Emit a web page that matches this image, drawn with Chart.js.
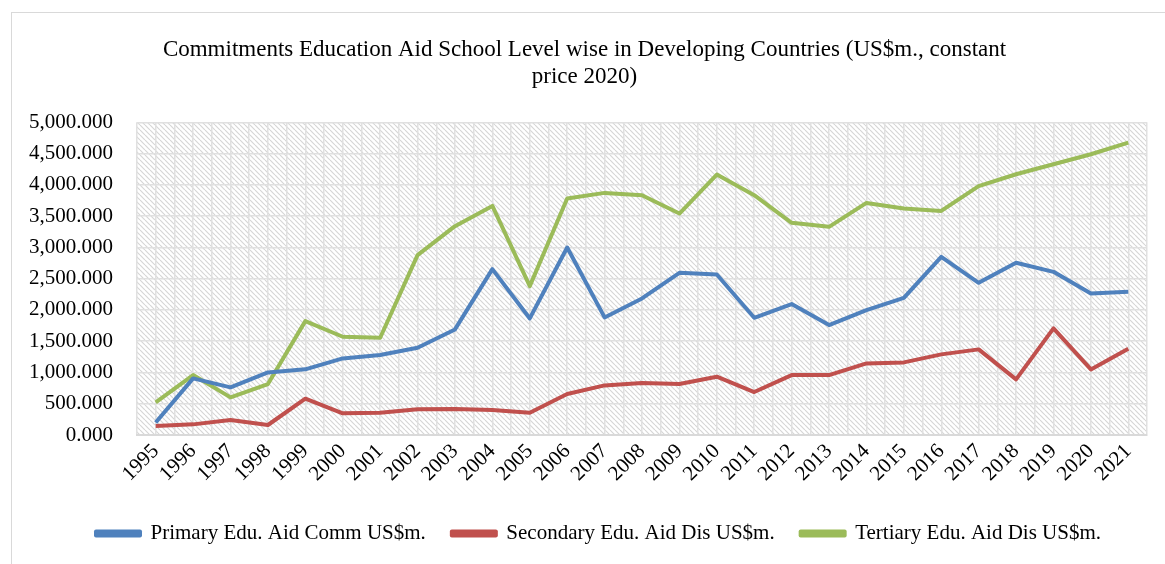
<!DOCTYPE html>
<html>
<head>
<meta charset="utf-8">
<script src="https://cdn.jsdelivr.net/npm/chart.js@4.4.1/dist/chart.umd.min.js"></script>
<style>
  html, body { margin: 0; padding: 0; background: #fff; }
  #frame {
    position: absolute; left: 11px; top: 12px;
    width: 1200px; height: 600px;
    border-left: 1px solid #d9d9d9; border-top: 1px solid #d9d9d9;
  }
  #wrap { position: absolute; left: 0; top: 0; width: 1165px; height: 564px; }
</style>
</head>
<body>
<div id="frame"></div>
<div id="wrap"><canvas id="chart"></canvas></div>
<script>
// years on the x axis
const years = ["1995","1996","1997","1998","1999","2000","2001","2002","2003","2004",
  "2005","2006","2007","2008","2009","2010","2011","2012","2013","2014",
  "2015","2016","2017","2018","2019","2020","2021"];

// values (US$m.)
const primaryAid = [200, 905, 762, 1000, 1050, 1225, 1278, 1395, 1688, 2652,
  1864, 2998, 1880, 2183, 2593, 2567, 1874, 2093, 1757, 1997,
  2194, 2849, 2433, 2753, 2609, 2263, 2290];
const secondaryAid = [145, 170, 240, 160, 580, 346, 356, 410, 415, 400,
  356, 655, 793, 830, 815, 932, 687, 958, 958, 1145,
  1161, 1289, 1369, 890, 1704, 1049, 1379];
const tertiaryAid = [522, 958, 602, 815, 1821, 1571, 1555, 2875, 3339, 3663,
  2380, 3780, 3871, 3834, 3541, 4164, 3834, 3392, 3328, 3711,
  3621, 3583, 3978, 4169, 4329, 4489, 4675];

const yTicks = [0, 500, 1000, 1500, 2000, 2500, 3000, 3500, 4000, 4500, 5000];

const FONT = "'Liberation Serif', 'Times New Roman', serif";

// diagonal hatch used as plot background
function makeHatch() {
    const s = 5;
    const c = document.createElement("canvas");
    c.width = s; c.height = s;
    const g = c.getContext("2d");
    g.fillStyle = "#ffffff";
    g.fillRect(0, 0, s, s);
    g.strokeStyle = "#d6d6d6";
    g.lineWidth = 1.2;
    [-s, 0, s].forEach(x0 => {
        g.beginPath();
        g.moveTo(x0, 0);
        g.lineTo(x0 + s, s);
        g.stroke();
    });
    return c;
}

const hatchBackground = {
    id: "hatchBackground",
    beforeDraw(chart) {
        const { ctx, chartArea } = chart;
        ctx.save();
        ctx.fillStyle = ctx.createPattern(makeHatch(), "repeat");
        ctx.fillRect(chartArea.left, chartArea.top,
            chartArea.right - chartArea.left, chartArea.bottom - chartArea.top);
        ctx.restore();
    }
};

// nudge the legend a bit to the right, as in the picture
const legendShift = {
    id: "legendShift",
    afterLayout(chart) {
        if (chart.legend) {
            chart.legend.left += 14;
            chart.legend.right += 14;
        }
    }
};

function series(label, values, color) {
    return {
        label: label,
        data: values,
        borderColor: color,
        backgroundColor: color,
        borderWidth: 4,
        pointRadius: 0,
        tension: 0,
        borderJoinStyle: "round",
        xAxisID: "x"
    };
}

new Chart(document.getElementById("chart"), {
    type: "line",
    data: {
        labels: years,
        datasets: [
            series("Primary Edu. Aid Comm US$m.", primaryAid, "#4f81bd"),
            series("Secondary Edu. Aid Dis US$m.", secondaryAid, "#c0504d"),
            series("Tertiary Edu. Aid Dis US$m.", tertiaryAid, "#9bbb59")
        ]
    },
    options: {
        responsive: true,
        maintainAspectRatio: false,
        animation: false,
        layout: { padding: { left: 22, right: 18, top: 20, bottom: 10 } },
        plugins: {
            title: {
                display: true,
                text: ["Commitments Education Aid School Level wise in Developing Countries (US$m., constant",
                       "price 2020)"],
                color: "#000",
                font: { family: FONT, size: 23, weight: "normal", lineHeight: 1.18 },
                padding: { top: 16, bottom: 32 }
            },
            legend: {
                position: "bottom",
                labels: {
                    color: "#000",
                    font: { family: FONT, size: 21 },
                    boxWidth: 44,
                    boxHeight: 4,
                    padding: 26
                }
            },
            tooltip: { enabled: false }
        },
        scales: {
            x: {
                type: "category",
                offset: true,
                grid: { offset: true, color: "#e0e0e0", lineWidth: 1.5, drawTicks: false },
                border: { color: "#d9d9d9", width: 2 },
                ticks: {
                    color: "#000",
                    font: { family: FONT, size: 21 },
                    maxRotation: 45, minRotation: 45,
                    padding: 4,
                    autoSkip: false
                },
                afterFit(scale) { scale.height = 62; }
            },
            x2: {
                type: "category",
                labels: years,
                position: "top",
                offset: true,
                grid: { offset: false, color: "#e0e0e0", lineWidth: 1.5, drawTicks: false },
                border: { display: false },
                ticks: { display: false }
            },
            y: {
                min: 0,
                max: 5000,
                afterBuildTicks(scale) { scale.ticks = yTicks.map(v => ({ value: v })); },
                grid: { color: "#e0e0e0", lineWidth: 1.5, drawTicks: false },
                border: { display: false },
                ticks: {
                    color: "#000",
                    font: { family: FONT, size: 21 },
                    padding: 24,
                    callback: v => v.toLocaleString("en-US", { minimumFractionDigits: 3, maximumFractionDigits: 3 })
                },
                afterFit(scale) { scale.width = 115; }
            }
        }
    },
    plugins: [hatchBackground, legendShift]
});
</script>
</body>
</html>
